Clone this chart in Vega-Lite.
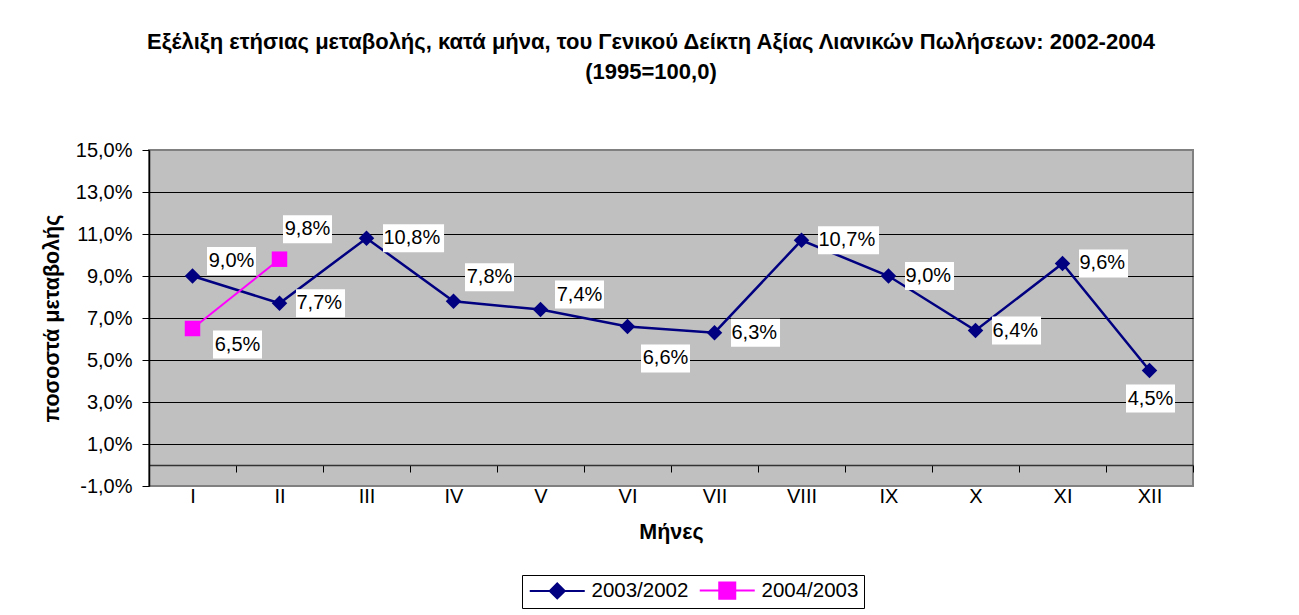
{
  "$schema": "https://vega.github.io/schema/vega-lite/v6.json",
  "width": 1044,
  "height": 336,
  "autosize": {"type": "none"},
  "padding": {"left": 149, "top": 150, "right": 106, "bottom": 129},
  "background": "white",
  "config": {
    "font": "Liberation Sans",
    "view": {"fill": "#C0C0C0", "stroke": "#808080", "strokeWidth": 2},
    "locale": {"number": {"decimal": ",", "thousands": ".", "grouping": [3], "currency": ["", " €"], "minus": "-", "percent": "%"}},
    "axis": {"labelFont": "Liberation Sans", "titleFont": "Liberation Sans", "labelColor": "black", "titleColor": "black"}
  },
  "title": {
    "text": ["Εξέλιξη ετήσιας  μεταβολής, κατά μήνα, του Γενικού Δείκτη Αξίας Λιανικών Πωλήσεων: 2002-2004", "(1995=100,0)"],
    "font": "Liberation Sans",
    "fontSize": 22,
    "fontWeight": "bold",
    "color": "black",
    "lineHeight": 30,
    "anchor": "middle",
    "frame": "group",
    "dx": -20,
    "offset": 56
  },
  "data": {
    "values": [
      {"m": "I", "s": "2003/2002", "v": 0.090},
      {"m": "II", "s": "2003/2002", "v": 0.077},
      {"m": "III", "s": "2003/2002", "v": 0.108},
      {"m": "IV", "s": "2003/2002", "v": 0.078},
      {"m": "V", "s": "2003/2002", "v": 0.074},
      {"m": "VI", "s": "2003/2002", "v": 0.066},
      {"m": "VII", "s": "2003/2002", "v": 0.063},
      {"m": "VIII", "s": "2003/2002", "v": 0.107},
      {"m": "IX", "s": "2003/2002", "v": 0.090},
      {"m": "X", "s": "2003/2002", "v": 0.064},
      {"m": "XI", "s": "2003/2002", "v": 0.096},
      {"m": "XII", "s": "2003/2002", "v": 0.045},
      {"m": "I", "s": "2004/2003", "v": 0.065},
      {"m": "II", "s": "2004/2003", "v": 0.098}
    ]
  },
  "encoding": {
    "x": {
      "field": "m",
      "type": "ordinal",
      "sort": ["I", "II", "III", "IV", "V", "VI", "VII", "VIII", "IX", "X", "XI", "XII"],
      "scale": {"type": "band", "paddingInner": 0, "paddingOuter": 0},
      "axis": {
        "title": "Μήνες",
        "titleFontSize": 21.5,
        "titleFontWeight": "bold",
        "titlePadding": 15,
        "labelFontSize": 20,
        "labelAngle": 0,
        "labelPadding": 14,
        "offset": -21,
        "domainColor": "#333333",
        "domainWidth": 1.5,
        "tickColor": "black",
        "tickSize": 7,
        "tickBand": "extent",
        "grid": false
      }
    },
    "y": {
      "field": "v",
      "type": "quantitative",
      "scale": {"domain": [-0.01, 0.15], "nice": false, "zero": false},
      "axis": {
        "title": "ποσοστά μεταβολής",
        "values": [-0.01, 0.01, 0.03, 0.05, 0.07, 0.09, 0.11, 0.13, 0.15],
        "format": ".1%",
        "labelFontSize": 20,
        "labelPadding": 10,
        "tickSize": 7,
        "tickColor": "black",
        "domainColor": "black",
        "domainWidth": 1.5,
        "grid": true,
        "gridColor": "black",
        "gridWidth": 1,
        "gridOpacity": {"condition": {"test": "datum.value > 0.145 || datum.value < -0.005", "value": 0}, "value": 1},
        "titleFontSize": 21.5,
        "titleFontWeight": "bold",
        "titlePadding": 12
      }
    }
  },
  "layer": [
    {
      "mark": {"type": "line"},
      "encoding": {
        "color": {
          "field": "s", "type": "nominal",
          "scale": {"domain": ["2003/2002", "2004/2003"], "range": ["#000080", "#FF00FF"]},
          "legend": {
            "title": null, "orient": "none", "legendX": 373, "legendY": 425, "direction": "horizontal",
            "strokeColor": "black", "padding": 5, "labelFontSize": 20.5, "labelColor": "black", "labelFont": "Liberation Sans",
            "labelOffset": 24, "symbolOffset": 20, "columnPadding": 6, "symbolSize": 225, "symbolStrokeWidth": 2, "symbolOpacity": 1,
            "encode": {"symbols": {"update": {
              "shape": {"signal": "datum.value === '2003/2002' ? 'M-3.667,0H3.667M0,-1L1,0L0,1L-1,0Z' : 'M-3.667,0H3.667M-1.067,-1.067H1.067V1.067H-1.067Z'"},
              "strokeWidth": {"value": 2},
              "opacity": {"value": 1}
            }}}
          }
        },
        "strokeWidth": {"condition": {"test": "datum.s === '2004/2003'", "value": 2}, "value": 2.5}
      }
    },
    {
      "mark": {"type": "point", "filled": true, "opacity": 1, "size": 240},
      "encoding": {
        "color": {
          "field": "s", "type": "nominal",
          "scale": {"domain": ["2003/2002", "2004/2003"], "range": ["#000080", "#FF00FF"]},
          "legend": {
            "title": null, "orient": "none", "legendX": 373, "legendY": 425, "direction": "horizontal",
            "strokeColor": "black", "padding": 5, "labelFontSize": 20.5, "labelColor": "black", "labelFont": "Liberation Sans",
            "labelOffset": 24, "symbolOffset": 20, "columnPadding": 6, "symbolSize": 225, "symbolStrokeWidth": 2, "symbolOpacity": 1,
            "encode": {"symbols": {"update": {
              "shape": {"signal": "datum.value === '2003/2002' ? 'M-3.667,0H3.667M0,-1L1,0L0,1L-1,0Z' : 'M-3.667,0H3.667M-1.067,-1.067H1.067V1.067H-1.067Z'"},
              "strokeWidth": {"value": 2},
              "opacity": {"value": 1}
            }}}
          }
        },
        "shape": {"condition": {"test": "datum.s === '2003/2002'", "value": "diamond"}, "value": "square"}
      }
    },
    {
      "transform": [{"filter": {"and": [{"field": "s", "equal": "2003/2002"}, {"field": "m", "oneOf": ["II", "III", "VII", "VIII", "IX", "X", "XI"]}]}}],
      "mark": {"type": "point", "filled": true, "fill": "white", "opacity": 1, "size": 784, "strokeWidth": 0},
      "encoding": {"shape": {"condition": {"test": "datum.v >= 0.1", "value": "M1.18,-1H5.54V1H1.18Z"}, "value": "M1.18,-1H4.68V1H1.18Z"}}
    },
    {
      "transform": [{"filter": {"and": [{"field": "s", "equal": "2003/2002"}, {"field": "m", "oneOf": ["I", "V"]}]}}],
      "mark": {"type": "point", "filled": true, "fill": "white", "opacity": 1, "size": 784, "strokeWidth": 0, "shape": "M-1.75,-1H1.75V1H-1.75Z", "xOffset": 39, "yOffset": -15}
    },
    {
      "transform": [{"filter": {"and": [{"field": "s", "equal": "2003/2002"}, {"field": "m", "equal": "IV"}]}}],
      "mark": {"type": "point", "filled": true, "fill": "white", "opacity": 1, "size": 784, "strokeWidth": 0, "shape": "M-1.75,-1H1.75V1H-1.75Z", "xOffset": 36, "yOffset": -24}
    },
    {
      "transform": [{"filter": {"and": [{"field": "s", "equal": "2003/2002"}, {"field": "m", "equal": "VI"}]}}],
      "mark": {"type": "point", "filled": true, "fill": "white", "opacity": 1, "size": 784, "strokeWidth": 0, "shape": "M-1.75,-1H1.75V1H-1.75Z", "xOffset": 38, "yOffset": 32}
    },
    {
      "transform": [{"filter": {"and": [{"field": "s", "equal": "2003/2002"}, {"field": "m", "equal": "XII"}]}}],
      "mark": {"type": "point", "filled": true, "fill": "white", "opacity": 1, "size": 784, "strokeWidth": 0, "shape": "M-1.75,-1H1.75V1H-1.75Z", "xOffset": 1, "yOffset": 28}
    },
    {
      "transform": [{"filter": {"and": [{"field": "s", "equal": "2004/2003"}, {"field": "m", "equal": "I"}]}}],
      "mark": {"type": "point", "filled": true, "fill": "white", "opacity": 1, "size": 784, "strokeWidth": 0, "shape": "M-1.75,-1H1.75V1H-1.75Z", "xOffset": 45, "yOffset": 16}
    },
    {
      "transform": [{"filter": {"and": [{"field": "s", "equal": "2004/2003"}, {"field": "m", "equal": "II"}]}}],
      "mark": {"type": "point", "filled": true, "fill": "white", "opacity": 1, "size": 784, "strokeWidth": 0, "shape": "M-1.75,-1H1.75V1H-1.75Z", "xOffset": 28, "yOffset": -30}
    },
    {
      "transform": [{"filter": {"and": [{"field": "s", "equal": "2003/2002"}, {"field": "m", "oneOf": ["II", "III", "VII", "VIII", "IX", "X", "XI"]}]}}],
      "mark": {"type": "text", "fontSize": 20, "color": "black", "align": "left", "baseline": "middle", "dx": 17},
      "encoding": {"text": {"field": "v", "type": "quantitative", "format": ".1%"}}
    },
    {
      "transform": [{"filter": {"and": [{"field": "s", "equal": "2003/2002"}, {"field": "m", "oneOf": ["I", "V"]}]}}],
      "mark": {"type": "text", "fontSize": 20, "color": "black", "align": "center", "baseline": "middle", "dx": 39, "dy": -15},
      "encoding": {"text": {"field": "v", "type": "quantitative", "format": ".1%"}}
    },
    {
      "transform": [{"filter": {"and": [{"field": "s", "equal": "2003/2002"}, {"field": "m", "equal": "IV"}]}}],
      "mark": {"type": "text", "fontSize": 20, "color": "black", "align": "center", "baseline": "middle", "dx": 36, "dy": -24},
      "encoding": {"text": {"field": "v", "type": "quantitative", "format": ".1%"}}
    },
    {
      "transform": [{"filter": {"and": [{"field": "s", "equal": "2003/2002"}, {"field": "m", "equal": "VI"}]}}],
      "mark": {"type": "text", "fontSize": 20, "color": "black", "align": "center", "baseline": "middle", "dx": 38, "dy": 32},
      "encoding": {"text": {"field": "v", "type": "quantitative", "format": ".1%"}}
    },
    {
      "transform": [{"filter": {"and": [{"field": "s", "equal": "2003/2002"}, {"field": "m", "equal": "XII"}]}}],
      "mark": {"type": "text", "fontSize": 20, "color": "black", "align": "center", "baseline": "middle", "dx": 1, "dy": 28},
      "encoding": {"text": {"field": "v", "type": "quantitative", "format": ".1%"}}
    },
    {
      "transform": [{"filter": {"and": [{"field": "s", "equal": "2004/2003"}, {"field": "m", "equal": "I"}]}}],
      "mark": {"type": "text", "fontSize": 20, "color": "black", "align": "center", "baseline": "middle", "dx": 45, "dy": 16},
      "encoding": {"text": {"field": "v", "type": "quantitative", "format": ".1%"}}
    },
    {
      "transform": [{"filter": {"and": [{"field": "s", "equal": "2004/2003"}, {"field": "m", "equal": "II"}]}}],
      "mark": {"type": "text", "fontSize": 20, "color": "black", "align": "center", "baseline": "middle", "dx": 28, "dy": -30},
      "encoding": {"text": {"field": "v", "type": "quantitative", "format": ".1%"}}
    }
  ]
}
